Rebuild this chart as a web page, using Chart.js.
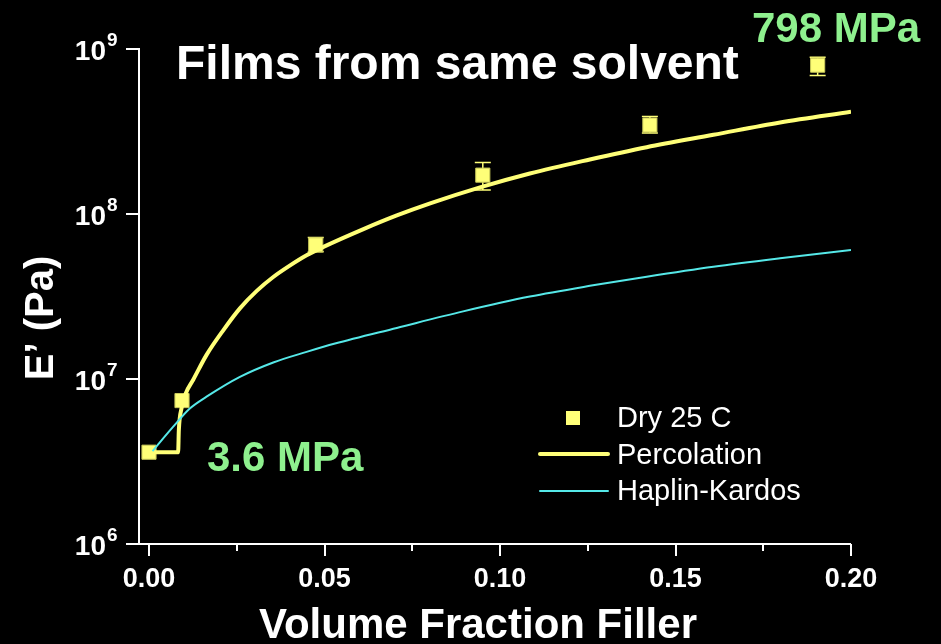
<!DOCTYPE html>
<html>
<head>
<meta charset="utf-8">
<title>Films from same solvent</title>
<script src="https://cdn.jsdelivr.net/npm/chart.js@4.4.1/dist/chart.umd.min.js"></script>
<style>
html,body{margin:0;padding:0;background:#000;}
canvas{display:block;}
</style>
</head>
<body>
<canvas id="chart" width="941" height="644"></canvas>
<script>
// Measured storage modulus, dry films at 25 C
const dryX = [0.0, 0.0094, 0.0475, 0.0951, 0.1427, 0.1905];
const dryE = [3.6e6, 7.4e6, 6.5e7, 1.72e8, 3.46e8, 7.98e8];
const dryErrLow = [null, null, 5.9e7, 1.40e8, 3.1e8, 6.9e8];
const dryErrHigh = [null, null, 7.2e7, 2.05e8, 3.9e8, 8.9e8];

// Percolation model curve
const percX = [0.0, 0.0083, 0.0085, 0.0093, 0.0105, 0.0126, 0.0164, 0.0212, 0.0259, 0.0307, 0.0354, 0.0402,
               0.0449, 0.0497, 0.0611, 0.0706, 0.0801, 0.0943, 0.1085, 0.1256, 0.1418, 0.1608, 0.1798, 0.20];
const percE = [3.6e6, 3.6e6, 4.9e6, 6.7e6, 8.2e6, 9.9e6, 1.40e7, 1.98e7, 2.68e7, 3.42e7, 4.15e7, 4.88e7,
               5.62e7, 6.32e7, 8.1e7, 9.8e7, 1.16e8, 1.45e8, 1.76e8, 2.14e8, 2.54e8, 3.02e8, 3.59e8, 4.17e8];

// Haplin-Kardos model curve
const hkX = [0.001, 0.0069, 0.0117, 0.0164, 0.0259, 0.0354, 0.0449, 0.053, 0.0706, 0.0895,
             0.1085, 0.1256, 0.1418, 0.1608, 0.1798, 0.20];
const hkE = [3.65e6, 5.14e6, 6.64e6, 7.81e6, 1.03e7, 1.26e7, 1.46e7, 1.64e7, 2.04e7, 2.57e7,
             3.16e7, 3.67e7, 4.17e7, 4.79e7, 5.39e7, 6.05e7];

// Axis ticks
const xTicks = [0, 0.05, 0.10, 0.15, 0.20];
const xTickLabels = ["0.00", "0.05", "0.10", "0.15", "0.20"];
const xMinorTicks = [0.025, 0.075, 0.125, 0.175];
const yTicks = [1e6, 1e7, 1e8, 1e9];
const yTickExp = ["6", "7", "8", "9"];

const FONT = '"Liberation Sans", Arial, Helvetica, sans-serif';
const YELLOW = "#FFFF78";
const CYAN = "#55E8E8";
const GREEN = "#8EF08E";

function pts(xs, ys){ return xs.map((x, i) => ({x, y: ys[i]})); }

// error bars, tick marks, tick labels, legend and captions
const decor = {
  id: "decor",
  beforeDatasetsDraw(chart){
    const ctx = chart.ctx, xs = chart.scales.x, ys = chart.scales.y;
    ctx.save();
    ctx.strokeStyle = YELLOW;
    ctx.lineWidth = 1.5;
    dryX.forEach((x, i) => {
      if (dryErrLow[i] == null) return;
      const px = xs.getPixelForValue(x);
      const top = ys.getPixelForValue(dryErrHigh[i]);
      const bot = ys.getPixelForValue(dryErrLow[i]);
      ctx.beginPath();
      ctx.moveTo(px, top); ctx.lineTo(px, bot);
      ctx.moveTo(px - 8, top); ctx.lineTo(px + 8, top);
      ctx.moveTo(px - 8, bot); ctx.lineTo(px + 8, bot);
      ctx.stroke();
    });
    ctx.restore();
  },
  afterDraw(chart){
    const ctx = chart.ctx, xs = chart.scales.x, ys = chart.scales.y;
    const area = chart.chartArea;
    ctx.save();
    ctx.strokeStyle = "#fff";
    ctx.fillStyle = "#fff";
    ctx.lineWidth = 2;

    // x axis line runs out to the end of the y ticks
    ctx.beginPath();
    ctx.moveTo(area.left - 13, area.bottom); ctx.lineTo(area.right, area.bottom);
    ctx.stroke();

    ctx.beginPath();
    xTicks.forEach(v => { const p = Math.round(xs.getPixelForValue(v)); ctx.moveTo(p, area.bottom); ctx.lineTo(p, area.bottom + 12); });
    xMinorTicks.forEach(v => { const p = Math.round(xs.getPixelForValue(v)); ctx.moveTo(p, area.bottom); ctx.lineTo(p, area.bottom + 7); });
    yTicks.forEach(v => { const p = Math.round(ys.getPixelForValue(v)); ctx.moveTo(area.left, p); ctx.lineTo(area.left - 13, p); });
    ctx.stroke();

    ctx.font = "bold 27px " + FONT;
    ctx.textAlign = "center";
    ctx.textBaseline = "alphabetic";
    xTicks.forEach((v, i) => ctx.fillText(xTickLabels[i], xs.getPixelForValue(v), area.bottom + 43));

    yTicks.forEach((v, i) => {
      const p = ys.getPixelForValue(v);
      ctx.font = "bold 28px " + FONT;
      ctx.textAlign = "right";
      ctx.fillText("10", 106, p + 11);
      ctx.font = "bold 19px " + FONT;
      ctx.textAlign = "left";
      ctx.fillText(yTickExp[i], 107, p - 3);
    });

    // axis titles
    ctx.font = "bold 42px " + FONT;
    ctx.textAlign = "center";
    ctx.fillText("Volume Fraction Filler", 478, 638);
    ctx.save();
    ctx.translate(53, 318);
    ctx.rotate(-Math.PI / 2);
    ctx.font = "bold 40px " + FONT;
    ctx.fillText("E\u2019 (Pa)", 0, 0);
    ctx.restore();

    // captions
    ctx.textAlign = "left";
    ctx.font = "bold 48px " + FONT;
    ctx.fillText("Films from same solvent", 176, 79);
    ctx.fillStyle = GREEN;
    ctx.font = "bold 42px " + FONT;
    ctx.fillText("798 MPa", 752, 42);
    ctx.fillText("3.6 MPa", 207, 471);

    // legend
    const ds = chart.data.datasets;
    ctx.fillStyle = ds[0].backgroundColor;
    ctx.fillRect(566, 411, 14, 14);
    ctx.lineCap = "round";
    ctx.strokeStyle = ds[1].borderColor;
    ctx.lineWidth = ds[1].borderWidth;
    ctx.beginPath(); ctx.moveTo(540, 454); ctx.lineTo(608, 454); ctx.stroke();
    ctx.strokeStyle = ds[2].borderColor;
    ctx.lineWidth = ds[2].borderWidth;
    ctx.beginPath(); ctx.moveTo(540, 491); ctx.lineTo(608, 491); ctx.stroke();
    ctx.fillStyle = "#fff";
    ctx.font = "29px " + FONT;
    ctx.fillText(ds[0].label, 617, 427);
    ctx.fillText(ds[1].label, 617, 464);
    ctx.fillText(ds[2].label, 617, 500);
    ctx.restore();
  }
};

new Chart(document.getElementById("chart").getContext("2d"), {
  type: "scatter",
  data: {
    datasets: [
      { label: "Dry 25 C", data: pts(dryX, dryE), pointStyle: "rect", pointRadius: 10, pointHoverRadius: 10,
        backgroundColor: YELLOW, borderColor: "#C8C85A", borderWidth: 1, order: 3 },
      { label: "Percolation", data: pts(percX, percE), showLine: true, pointRadius: 0, borderColor: YELLOW,
        borderWidth: 4, cubicInterpolationMode: "monotone", order: 2 },
      { label: "Haplin-Kardos", data: pts(hkX, hkE), showLine: true, pointRadius: 0, borderColor: CYAN,
        borderWidth: 2, cubicInterpolationMode: "monotone", order: 1 }
    ]
  },
  options: {
    responsive: false,
    animation: false,
    layout: { padding: { left: 139, right: 90, top: 49, bottom: 100 } },
    plugins: { legend: { display: false }, tooltip: { enabled: false } },
    scales: {
      x: { type: "linear", min: -0.00285, max: 0.20,
           ticks: { display: false }, grid: { display: false, drawTicks: false },
           border: { display: false } },
      y: { type: "logarithmic", min: 1e6, max: 1e9,
           ticks: { display: false }, grid: { display: false, drawTicks: false },
           border: { display: true, color: "#fff", width: 2 } }
    }
  },
  plugins: [decor, { id: "bg", beforeDraw(c){ const x = c.ctx; x.save(); x.fillStyle = "#000"; x.fillRect(0, 0, c.width, c.height); x.restore(); } }]
});
</script>
</body>
</html>
